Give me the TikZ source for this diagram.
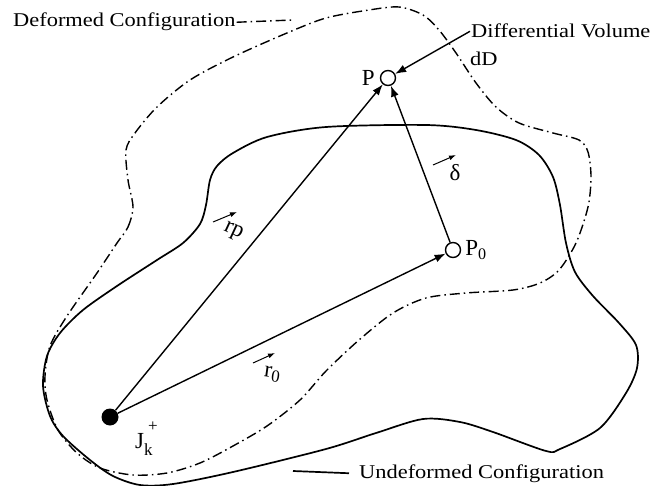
\documentclass[tikz,border=0pt]{standalone}
\usepackage{fontspec}
\setmainfont{Liberation Serif}
\newfontfamily\widefont[FakeStretch=1.15]{Liberation Serif}
\usetikzlibrary{arrows.meta,positioning}
\newcommand{\idxfont}{\fontsize{17}{17}\selectfont}
\tikzset{
  legendtext/.style={font=\widefont\fontsize{19.5}{22}\selectfont,inner sep=1pt},
  ptlabel/.style={font=\fontsize{23}{26}\selectfont,inner sep=1pt},
  solidline/.style={line width=1.7pt},
  dashdotline/.style={line width=1.4pt,dash pattern=on 10pt off 4pt on 1.5pt off 4pt},
  vecarr/.style={-{Latex[length=7pt,width=5pt]},line width=1pt},
  flowarr/.style={-{Latex[length=11pt,width=8pt]},line width=1.4pt},
  hollowpt/.style={circle,draw,line width=1.4pt,fill=white,minimum size=15pt,inner sep=0pt},
  solidpt/.style={circle,fill,minimum size=17pt,inner sep=0pt}
}
\begin{document}
\begin{tikzpicture}[x=1pt,y=-1pt]
  \useasboundingbox (0,0) rectangle (652,486);
  % deformed boundary (dash-dot)
  \draw[dashdotline] plot[smooth cycle] coordinates {
    (117,243) (128,227) (133,207) (128,180) (126,150) (135,133) (157,107)
    (190,80) (233,57) (287,33) (326,18) (369,10) (399,7) (423,15) (439,30)
    (456,53) (476,83) (496,107) (519,123) (553,133) (579,140) (588,152)
    (591,177) (588,207) (576,243) (559,270) (540,283) (513,290) (466,293)
    (426,298) (393,313) (359,340) (326,371) (300,400) (267,426) (233,446)
    (200,463) (167,473) (133,475) (100,468) (77,453) (58,430) (47,400)
    (45,376) (50,346) (67,316) (97,273)};
  % undeformed boundary (solid)
  \draw[solidline] plot[smooth cycle] coordinates {
    (233,153) (267,137) (326,127) (426,125) (476,130) (516,140) (539,155)
    (553,177) (560,205) (566,243) (575,272) (593,296) (619,323) (636,345)
    (637,368) (626,393) (600,428) (560,449) (546,451) (493,432) (460,422)
    (423,419) (376,433) (326,449) (233,472) (173,484) (140,485) (113,476)
    (90,460) (63,436) (50,416) (43,386) (47,356) (60,333) (83,310)
    (117,286) (157,260) (183,243) (200,224) (206,205) (210,180) (217,166)};

  % points
  \node[solidpt] (J) at (110,417) {};
  \node[hollowpt] (P) at (388,78) {};
  \node[hollowpt] (P0) at (453,250) {};
  \node[ptlabel,left=4pt of P] (Plab) {P};
  \node[ptlabel,right=3pt of P0] (P0lab) {P\textsubscript{0}};
  \node[ptlabel,anchor=base west] (Jlab) at (134,448)
    {J\rlap{\kern4pt\raisebox{17pt}{\idxfont +}}\raisebox{-7pt}{\idxfont k}};

  % position vectors
  \draw[flowarr] (J) -- (P);
  \draw[flowarr] (J) -- (P0);
  \draw[flowarr] (P0) -- (P);
  \node[ptlabel,rotate=-25] (rp) at (233,232) {rp};
  \node[ptlabel,rotate=-8] (r0) at (272,374) {r\raisebox{-4pt}{\idxfont 0}};
  \node[ptlabel] (delta) at (455,173) {δ};
  \draw[vecarr] ([shift={(-20,-10)}]rp.center) -- ++(24,-10);
  \draw[vecarr] ([shift={(-19,-11)}]r0.center) -- ++(22,-10);
  \draw[vecarr] ([shift={(-22,-8)}]delta.center) -- ++(23,-10);

  % legends
  \node[legendtext,anchor=base west] (deflab) at (12,27) {Deformed Configuration};
  \coordinate (defend) at (293,20);
  \draw[dashdotline] (deflab.east) -- (defend);
  \node[legendtext,anchor=base west] (dvlab) at (470,38) {Differential Volume};
  \node[legendtext,anchor=base west] (dDlab) at (469,66) {dD};
  \draw[flowarr] (dvlab.west) -- (P);
  \node[legendtext,anchor=base west] (undeflab) at (358,478) {Undeformed Configuration};
  \coordinate (undefstart) at (293,471);
  \draw[solidline] (undefstart) -- ([xshift=-9pt]undeflab.west);
\end{tikzpicture}
\end{document}
